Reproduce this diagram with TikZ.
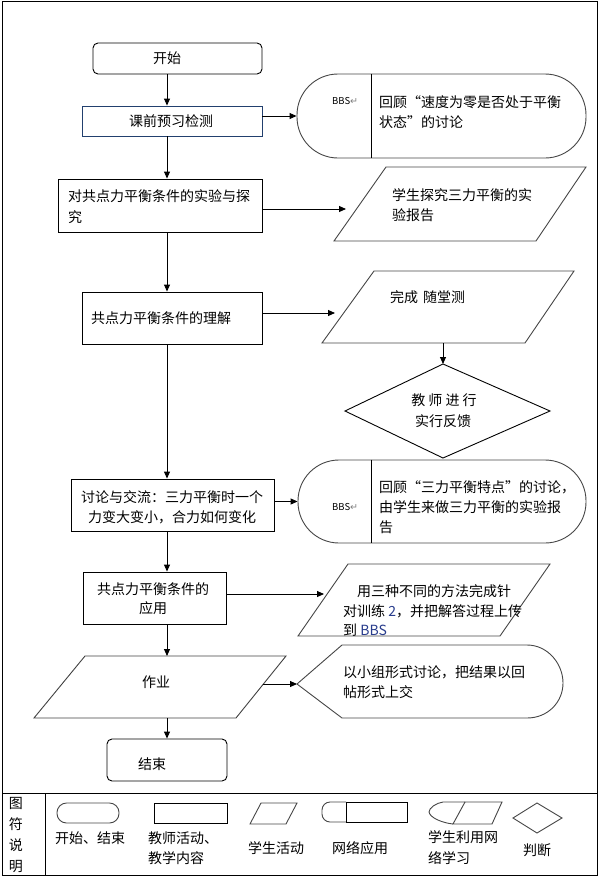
\documentclass[tikz,border=0pt]{standalone}
\usepackage{fontspec}
\setmainfont{Noto Sans CJK SC}
\newfontfamily\dejavu{DejaVu Sans}
\usetikzlibrary{arrows.meta,calc}
\definecolor{kqblue}{RGB}{34,64,110}
\definecolor{linkblue}{RGB}{40,60,140}
\definecolor{shapegray}{RGB}{70,70,70}
\begin{document}
\begin{tikzpicture}[x=1pt,y=-1pt,
  ln/.style={line width=0.9pt},
  arr/.style={line width=0.9pt,-{Triangle[length=7pt,width=6pt]}},
  termbox/.style={draw,line width=0.9pt,rounded corners=5pt,inner sep=0pt},
  procbox/.style={draw,line width=0.9pt,inner sep=0pt},
  bbsbox/.style={draw=shapegray,line width=0.9pt,rounded corners=41pt,inner sep=0pt},
  pbox/.style={draw=shapegray,line width=0.9pt},
  lgd/.style={draw=shapegray,line width=0.9pt},
  txt/.style={inner sep=0pt,font=\fontsize{14}{20}\selectfont,anchor=base west},
  ctxt/.style={inner sep=0pt,font=\fontsize{14}{20}\selectfont,anchor=base},
  bbstag/.style={inner sep=0pt,font=\fontsize{9.5}{11}\selectfont,anchor=base west}
]
\useasboundingbox (0,0) rectangle (600,878);
% outer frame and legend frame
\draw[ln] (2.5,1.5) rectangle (597,875.5);
\draw[ln] (2.5,793) -- (597,793);
\draw[ln] (45,793) -- (45,875.5);

\coordinate (axis) at (167,0);

% ---------- left column ----------
\node[termbox,minimum width=169pt,minimum height=31pt] (start) at (177.5,58.5) {};
\node[ctxt] (tstart) at (167,63) {开始};

\node[procbox,draw=kqblue,minimum width=180pt,minimum height=30pt] (kq) at (172,121) {};
\node[ctxt] (tkq) at (171,126) {课前预习检测};

\node[procbox,minimum width=204pt,minimum height=53pt] (exp) at (160,205.5) {};
\node[txt] (texpa) at (68,201) {对共点力平衡条件的实验与探};
\node[txt] (texpb) at (68,222) {究};

\node[procbox,minimum width=180pt,minimum height=52pt] (und) at (172,318) {};
\node[txt] (tund) at (91,323) {共点力平衡条件的理解};

\node[procbox,minimum width=203pt,minimum height=52pt] (dis) at (172.5,505) {};
\node[ctxt] (tdisa) at (172,502) {讨论与交流：三力平衡时一个};
\node[ctxt] (tdisb) at (172,522) {力变大变小，合力如何变化};

\node[procbox,minimum width=143pt,minimum height=52pt] (app) at (154.5,598) {};
\node[ctxt] (tappa) at (153,594) {共点力平衡条件的};
\node[ctxt] (tappb) at (153,613) {应用};

\draw[pbox,draw=black!75] (85,656) -- (286,656) -- (236,718) -- (34,718) -- cycle;
\coordinate (hwtop) at (167,656);
\coordinate (hwbot) at (167,718);
\coordinate (hwout) at (263,684);
\node[ctxt] (thw) at (156,687) {作业};

\node[termbox,minimum width=120pt,minimum height=42pt] (end) at (167,760) {};
\node[ctxt] (tend) at (152,769) {结束};

% vertical flow
\draw[arr] (start.south -| axis) -- (kq.north -| axis);
\draw[arr] (kq.south -| axis) -- (exp.north -| axis);
\draw[arr] (exp.south -| axis) -- (und.north -| axis);
\draw[arr] (und.south -| axis) -- (dis.north -| axis);
\draw[arr] (dis.south -| axis) -- (app.north -| axis);
\draw[arr] (app.south -| axis) -- (hwtop);
\draw[arr] (hwbot) -- (end.north -| axis);

% ---------- right column ----------
\node[bbsbox,minimum width=289pt,minimum height=84pt] (bbs1) at (441.5,116) {};
\coordinate (div1) at (371,0);
\draw[ln,draw=black] (bbs1.north -| div1) -- (bbs1.south -| div1);
\node[bbstag] (tag1) at (332,104.5) {BBS{\dejavu\color{gray}↵}};
\node[txt] (tb1a) at (379,107) {回顾“速度为零是否处于平衡};
\node[txt] (tb1b) at (379,127) {状态”的讨论};
\draw[arr] (kq.east |- bbs1.west) -- (bbs1.west);

\draw[pbox] (386,167) -- (586,167) -- (536,241) -- (334,241) -- cycle;
\coordinate (p1in) at (346,209);
\node[txt] (tp1a) at (392,200) {学生探究三力平衡的实};
\node[txt] (tp1b) at (392,220) {验报告};
\draw[arr] (exp.east |- p1in) -- (p1in);

\draw[pbox] (374,271) -- (574,271) -- (525,343) -- (322,343) -- cycle;
\coordinate (p2in) at (335,313);
\coordinate (p2out) at (443,343);
\node[txt] (tp2) at (390,302) {完成\hspace{5pt}随堂测};
\draw[arr] (und.east |- p2in) -- (p2in);

\draw[ln,draw=black] (443,364) -- (550,411) -- (443,458) -- (345,411) -- cycle;
\coordinate (dtop) at (443,364);
\node[ctxt] (tda) at (444,405) {教 师 进 行};
\node[ctxt] (tdb) at (443,426) {实行反馈};
\draw[arr] (p2out) -- (dtop);

\node[bbsbox,minimum width=288pt,minimum height=83pt] (bbs2) at (442,501.5) {};
\draw[ln,draw=black] (bbs2.north -| div1) -- (bbs2.south -| div1);
\node[bbstag] (tag2) at (332,510.5) {BBS{\dejavu\color{gray}↵}};
\node[txt] (tb2a) at (379,492) {回顾“三力平衡特点”的讨论，};
\node[txt] (tb2b) at (379,512) {由学生来做三力平衡的实验报};
\node[txt] (tb2c) at (379,532) {告};
\draw[arr] (dis.east |- bbs2.west) -- (bbs2.west);

\draw[pbox] (348,564) -- (550,564) -- (500,636) -- (298,636) -- cycle;
\coordinate (p3in) at (324,594);
\node[txt] (tp3a) at (357,596) {用三种不同的方法完成针};
\node[txt] (tp3b) at (343,616) {对训练 {\color{linkblue}2}，并把解答过程上传};
\node[txt] (tp3c) at (343,635) {到 {\color{linkblue}BBS}};
\draw[arr] (app.east |- p3in) -- (p3in);

\draw[pbox] (297,684) -- (342,645) -- (527,645) .. controls (548,645) and (563,664) .. (563,683) .. controls (563,702) and (548,718) .. (527,718) -- (342,718) -- cycle;
\coordinate (s6in) at (297,684);
\node[txt] (ts6a) at (343,677) {以小组形式讨论，把结果以回};
\node[txt] (ts6b) at (343,697) {帖形式上交};
\draw[arr] (hwout) -- (s6in);

% ---------- legend ----------
\node[ctxt] (lg1) at (16,808) {图};
\node[ctxt] (lg2) at (16,829) {符};
\node[ctxt] (lg3) at (16,850) {说};
\node[ctxt] (lg4) at (16,871) {明};

\node[draw=shapegray,line width=0.9pt,rounded corners=9.5pt,inner sep=0pt,minimum width=62pt,minimum height=20pt] (lgterm) at (88,813) {};
\node[txt] (lt1) at (55,843) {开始、结束};

\node[draw=black,line width=0.9pt,inner sep=0pt,minimum width=73pt,minimum height=20pt] (lgproc) at (190.5,813) {};
\node[txt] (lt2a) at (148,843) {教师活动、};
\node[txt] (lt2b) at (148,863) {教学内容};

\draw[lgd] (261,803) -- (297,803) -- (286,824) -- (250,824) -- cycle;
\node[txt] (lt3) at (248,853) {学生活动};

\draw[lgd,rounded corners=8pt] (346,802) -- (322,802) -- (322,822) -- (346,822);
\draw[ln,draw=black] (346,802) rectangle (407,822);
\node[txt] (lt4) at (332,853) {网络应用};

\draw[lgd] (465,802) -- (443,802) .. controls (436,803) and (429,808) .. (429,812) .. controls (430,818) and (443,823) .. (453,824);
\draw[lgd] (465,802) -- (502,802) -- (492,824) -- (453,824) -- cycle;
\node[txt] (lt5a) at (428,842) {学生利用网};
\node[txt] (lt5b) at (428,863) {络学习};

\draw[lgd] (513,818) -- (537,803) -- (562,818) -- (537,833) -- cycle;
\node[txt] (lt6) at (523,855) {判断};
\end{tikzpicture}
\end{document}
